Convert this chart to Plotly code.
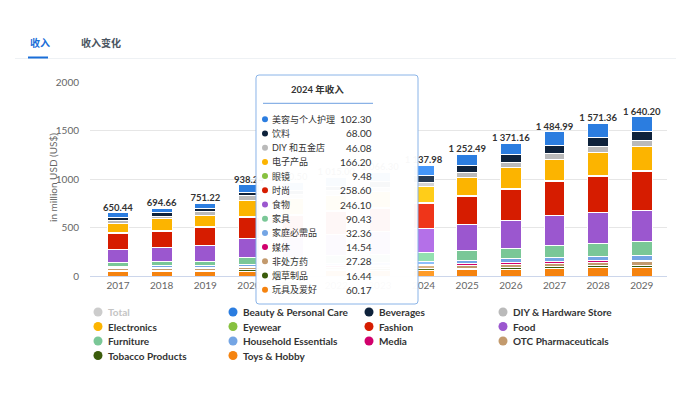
import plotly.graph_objects as go

# ---------------- data ----------------
years = [str(y) for y in range(2017, 2030)]

beauty     = [50, 45, 58, 75, 80, 88, 95, 102.30, 111, 122, 135, 142, 155]
beverages  = [30, 34, 30, 33, 38, 50, 58, 68.00, 72, 78, 88, 94, 92]
diy        = [25, 27, 35, 47, 44, 44, 45, 46.08, 50, 54, 58, 60, 58]
electronics= [100, 120, 122, 168, 165, 162, 160, 166.20, 192, 212, 222, 236, 245]
eyewear    = [5, 5, 6, 7, 7.5, 8, 8.8, 9.48, 10, 11, 12, 13, 14]
fashion    = [165, 170, 185, 222, 228, 236, 245, 258.60, 288, 320, 350, 371, 400]
food       = [135, 145, 165, 200, 205, 218, 230, 246.10, 270, 290, 305, 322, 320]
furniture  = [42, 42, 46.22, 68, 70, 78, 84, 90.43, 99, 108, 124, 130, 142]
household  = [15, 18, 18, 22, 23, 26, 29, 32.36, 35, 39, 44, 47, 50]
media      = [10, 11, 12, 12, 12.5, 13, 13.8, 14.54, 15, 16, 17, 18, 19]
otc        = [15, 17, 17, 20, 21, 23, 25, 27.28, 29, 31, 33, 35, 37]
tobacco    = [12, 13, 13, 14, 14.5, 15, 15.8, 16.44, 17, 18, 19, 20, 21]
toys       = [46.44, 47.66, 44, 50.24, 52, 54, 56.9, 60.17, 64.49, 72.16, 77.99, 83.36, 87.2]
totals     = [650.44, 694.66, 751.22, 938.24, 960.50, 1015.00, 1066.30, 1137.98,
              1252.49, 1371.16, 1484.99, 1571.36, 1640.20]

names_en = ["Beauty & Personal Care", "Beverages", "DIY & Hardware Store", "Electronics",
            "Eyewear", "Fashion", "Food", "Furniture", "Household Essentials", "Media",
            "OTC Pharmaceuticals", "Tobacco Products", "Toys & Hobby"]
names_zh = ["美容与个人护理", "饮料", "DIY 和五金店", "电子产品", "眼镜", "时尚", "食物", "家具",
            "家庭必需品", "媒体", "非处方药", "烟草制品", "玩具及爱好"]
series = [beauty, beverages, diy, electronics, eyewear, fashion, food, furniture,
          household, media, otc, tobacco, toys]
colors = ["#2b7de0", "#0e223b", "#bababa", "#fcb400", "#87c13f", "#d61c00", "#9b57cf",
          "#7ac797", "#74a5e4", "#d1006c", "#c39a6d", "#3b5c0b", "#f5830f"]
tooltip_year_index = 7
tabs = ["收入", "收入变化"]
y_ticks = [0, 500, 1000, 1500, 2000]

FONT = "Lato, 'Noto Sans CJK SC', sans-serif"

# ---------------- geometry helpers (page pixels; body has 8px margin) ----------------
OFF = 8
W, H = 684 - OFF, 394 - OFF
L, R, T, B = 90 - OFF, 17, 82 - OFF, 118
PW, PH = W - L - R, H - T - B


def px(x):
    return (x - OFF - L) / PW


def py(y):
    return (H - B - (y - OFF)) / PH


def fmt(v):
    return f"{v:,.2f}".replace(",", " ")


def brighten(hexc, amt=0.1):
    r, g, b = (int(hexc[i:i + 2], 16) for i in (1, 3, 5))
    f = lambda c: min(255, int(c + 255 * amt))
    return f"rgb({f(r)},{f(g)},{f(b)})"


fig = go.Figure()

# stacked bars: first series on top -> add in reverse; hovered year slightly brighter
for name, vals, col in reversed(list(zip(names_en, series, colors))):
    cols = [brighten(col) if i == tooltip_year_index else col for i in range(len(years))]
    fig.add_trace(go.Bar(
        x=years, y=vals, name=name, marker_color=cols,
        marker_line_color="white", marker_line_width=1,
        width=0.48, showlegend=False, hoverinfo="skip"))

fig.add_trace(go.Scatter(
    x=years, y=totals, mode="text",
    text=[f"<b>{fmt(v)}</b>" for v in totals],
    textposition="top center",
    textfont=dict(family=FONT, size=9.5, color="#333333"),
    showlegend=False, hoverinfo="skip"))

shapes = []
ann = []

# tabs
ann.append(dict(x=px(28), y=py(43), xref="paper", yref="paper", text=f"<b>{tabs[0]}</b>",
                showarrow=False, xanchor="left", yanchor="middle",
                font=dict(family=FONT, size=10, color="#1a6ed8")))
ann.append(dict(x=px(79), y=py(43), xref="paper", yref="paper", text=f"<b>{tabs[1]}</b>",
                showarrow=False, xanchor="left", yanchor="middle",
                font=dict(family=FONT, size=10, color="#4a5561")))
shapes.append(dict(type="line", xref="paper", yref="paper", x0=px(15), x1=px(684),
                   y0=py(58.5), y1=py(58.5), line=dict(color="#eef1f4", width=1)))
shapes.append(dict(type="line", xref="paper", yref="paper", x0=px(28), x1=px(48),
                   y0=py(57.5), y1=py(57.5), line=dict(color="#1a6ed8", width=2)))

# y axis title
ann.append(dict(x=px(45), y=py(178), xref="paper", yref="paper",
                text="in million USD (US$)", textangle=-90, showarrow=False,
                font=dict(family=FONT, size=10, color="#666666")))

# tooltip box
def rounded(x0, y0, x1, y1, r):
    pts = [("M", x0 + r, y0), ("L", x1 - r, y0), ("Q", x1, y0, x1, y0 + r),
           ("L", x1, y1 - r), ("Q", x1, y1, x1 - r, y1), ("L", x0 + r, y1),
           ("Q", x0, y1, x0, y1 - r), ("L", x0, y0 + r), ("Q", x0, y0, x0 + r, y0)]
    out = []
    for p in pts:
        cmd = p[0]
        coords = p[1:]
        s = " ".join(f"{px(coords[i]):.5f},{py(coords[i+1]):.5f}" for i in range(0, len(coords), 2))
        out.append(f"{cmd} {s}")
    return " ".join(out) + " Z"


shapes.append(dict(type="path", xref="paper", yref="paper", layer="above",
                   path=rounded(256, 75, 418, 304, 3),
                   fillcolor="rgba(255,255,255,0.97)",
                   line=dict(color="#8ab4e8", width=1)))
ann.append(dict(x=px(317), y=py(89), xref="paper", yref="paper",
                text=f"<b>{years[tooltip_year_index]} 年收入</b>", showarrow=False,
                xanchor="center", yanchor="middle",
                font=dict(family=FONT, size=9.5, color="#333333")))
shapes.append(dict(type="line", xref="paper", yref="paper", layer="above",
                   x0=px(263), x1=px(373), y0=py(103.3), y1=py(103.3),
                   line=dict(color="#6d9fe0", width=1)))
for i, (zh, vals, col) in enumerate(zip(names_zh, series, colors)):
    yy = 119.3 + i * 14.2
    shapes.append(dict(type="circle", xref="paper", yref="paper", layer="above",
                       x0=px(262), x1=px(268), y0=py(yy - 3), y1=py(yy + 3),
                       fillcolor=col, line=dict(width=0)))
    ann.append(dict(x=px(270), y=py(yy), xref="paper", yref="paper", text=zh,
                    showarrow=False, xanchor="left", yanchor="middle",
                    font=dict(family=FONT, size=9, color="#333333")))
    ann.append(dict(x=px(374), y=py(yy), xref="paper", yref="paper",
                    text=f"{vals[tooltip_year_index]:.2f}",
                    showarrow=False, xanchor="right", yanchor="middle",
                    font=dict(family=FONT, size=10, color="#333333")))

# custom legend (4 columns)
legend_items = [("Total", "#cccccc", "#c4c4c4")] + [(n, c, "#333333") for n, c in zip(names_en, colors)]
col_x = [98, 233, 369, 503]
row_y = [312, 326.5, 341, 355.5]
for k, (name, col, tcol) in enumerate(legend_items):
    cx = col_x[k % 4]
    cy = row_y[k // 4]
    shapes.append(dict(type="circle", xref="paper", yref="paper",
                       x0=px(cx - 4.5), x1=px(cx + 4.5), y0=py(cy - 4.5), y1=py(cy + 4.5),
                       fillcolor=col, line=dict(width=0)))
    ann.append(dict(x=px(cx + 8), y=py(cy), xref="paper", yref="paper",
                    text=f"<b>{name}</b>", showarrow=False, xanchor="left", yanchor="middle",
                    font=dict(family=FONT, size=10, color=tcol)))

fig.update_layout(
    width=W, height=H,
    margin=dict(l=L, r=R, t=T, b=B),
    barmode="stack", bargap=0.5,
    plot_bgcolor="white", paper_bgcolor="white",
    font=dict(family=FONT, size=10, color="#666666"),
    shapes=shapes, annotations=ann,
    xaxis=dict(type="category", range=[-0.641, 12.577], showgrid=False,
               showline=True, linecolor="#ccd6eb", linewidth=1,
               ticks="", tickfont=dict(size=10, color="#666666"), fixedrange=True),
    yaxis=dict(range=[0, 2000], tickvals=y_ticks, showgrid=True, gridcolor="#e6e6e6",
               zeroline=False, showline=False, ticks="", ticklabelstandoff=10,
               tickfont=dict(size=10, color="#666666"), fixedrange=True),
    showlegend=False,
)

fig.write_html("out.html")
